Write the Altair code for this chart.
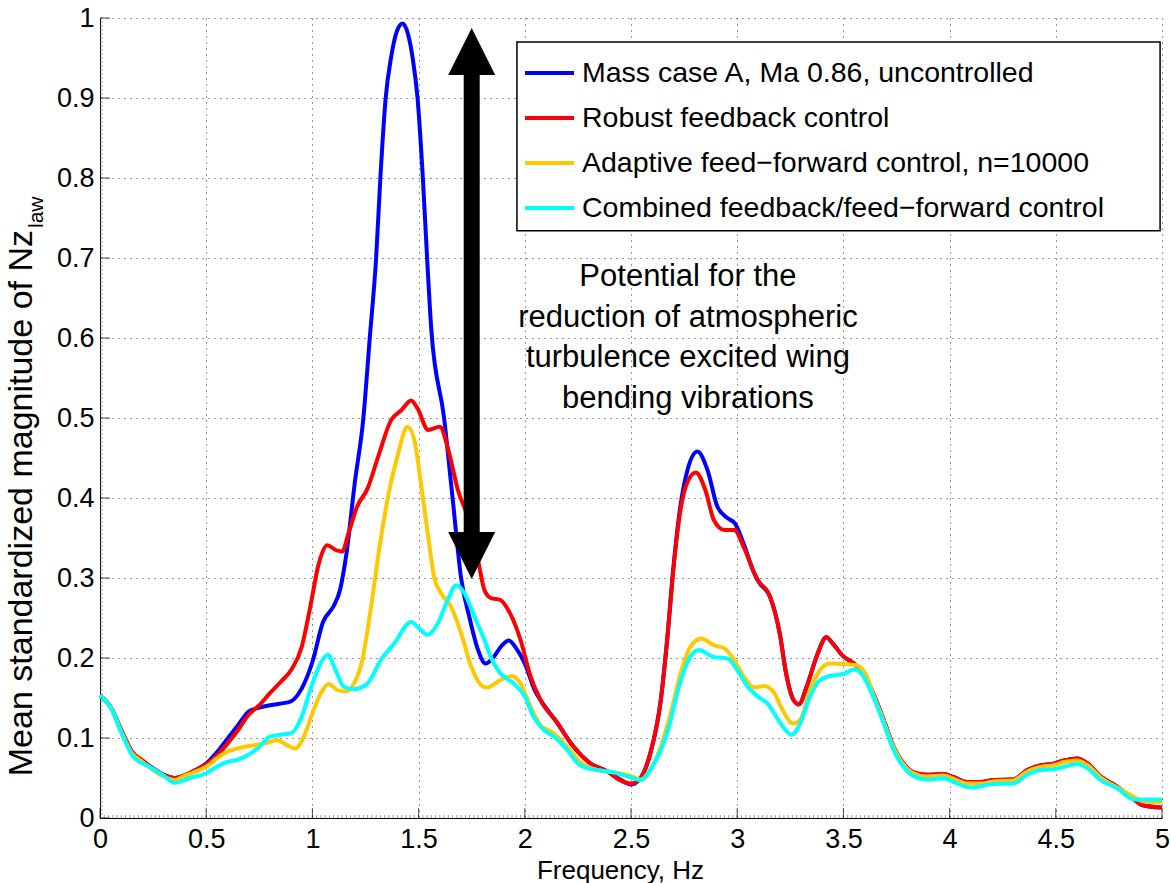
import altair as alt
import pandas as pd

SERIES = [
    "Mass case A, Ma 0.86, uncontrolled",
    "Robust feedback control",
    "Adaptive feed\u2212forward control, n=10000",
    "Combined feedback/feed\u2212forward control",
]
COLORS = ["#0000ff", "#ff0000", "#ffc800", "#00ffff"]

blue_f = [0.00, 0.05, 0.10, 0.15, 0.20, 0.25, 0.30, 0.35, 0.40, 0.45, 0.50, 0.55, 0.60, 0.65, 0.70,
          0.75, 0.80, 0.85, 0.90, 0.95, 1.00, 1.05, 1.10, 1.13, 1.16, 1.20, 1.24, 1.27, 1.30, 1.32,
          1.345, 1.37, 1.40, 1.425, 1.45, 1.472, 1.495, 1.52, 1.54, 1.56, 1.62, 1.66, 1.70,
          1.74, 1.78, 1.815, 1.85, 1.89, 1.925, 1.96, 2.00, 2.05, 2.075, 2.15, 2.23, 2.31, 2.39,
          2.45, 2.50, 2.545, 2.59, 2.64, 2.67, 2.70, 2.73, 2.766, 2.813, 2.86, 2.907, 2.954, 2.99,
          3.03, 3.08, 3.107, 3.154, 3.20, 3.23, 3.264, 3.29, 3.327, 3.374, 3.42, 3.45, 3.50, 3.55,
          3.594, 3.64, 3.69, 3.736, 3.783, 3.83, 3.893, 3.97, 4.02, 4.08, 4.145, 4.21, 4.30, 4.365,
          4.43, 4.49, 4.54, 4.60, 4.65, 4.71, 4.79, 4.85, 4.91, 5.00]
blue_v = [0.153, 0.139, 0.110, 0.083, 0.071, 0.062, 0.054, 0.050, 0.053, 0.060, 0.068, 0.082, 0.099, 0.116, 0.133,
          0.138, 0.141, 0.143, 0.146, 0.162, 0.195, 0.245, 0.265, 0.285, 0.330, 0.420, 0.500, 0.600, 0.700, 0.800,
          0.900, 0.950, 0.985, 0.993, 0.980, 0.950, 0.900, 0.800, 0.700, 0.610, 0.500, 0.400, 0.300,
          0.250, 0.210, 0.193, 0.200, 0.215, 0.222, 0.212, 0.193, 0.158, 0.147, 0.120, 0.089, 0.068, 0.058,
          0.048, 0.042, 0.050, 0.080, 0.147, 0.222, 0.314, 0.385, 0.435, 0.458, 0.435, 0.389, 0.375, 0.368,
          0.343, 0.306, 0.293, 0.277, 0.231, 0.181, 0.148, 0.142, 0.164, 0.202, 0.226, 0.218, 0.202, 0.193,
          0.181, 0.156, 0.1225, 0.089, 0.068, 0.057, 0.054, 0.055, 0.051, 0.045, 0.045, 0.0475, 0.048, 0.060,
          0.066, 0.068, 0.072, 0.0745, 0.068, 0.052, 0.039, 0.027, 0.016, 0.013]

red_f = [0.00, 0.05, 0.10, 0.15, 0.20, 0.25, 0.30, 0.35, 0.40, 0.45, 0.50, 0.55, 0.60, 0.65, 0.70,
         0.75, 0.80, 0.85, 0.90, 0.95, 0.99, 1.03, 1.07, 1.11, 1.14, 1.17, 1.21, 1.26, 1.31, 1.37,
         1.42, 1.465, 1.495, 1.545, 1.60, 1.64, 1.685, 1.73, 1.78, 1.81, 1.84, 1.885, 1.93, 1.98,
         2.027, 2.075, 2.15, 2.23, 2.31, 2.39, 2.45, 2.50, 2.545, 2.59, 2.64, 2.67, 2.70, 2.73,
         2.766, 2.805, 2.85, 2.89, 2.94, 2.986, 3.03, 3.096, 3.154, 3.20, 3.23, 3.264, 3.29, 3.327,
         3.374, 3.42, 3.45, 3.50, 3.55, 3.594, 3.64, 3.69, 3.736, 3.783, 3.83, 3.893, 3.97, 4.02,
         4.08, 4.145, 4.21, 4.30, 4.365, 4.43, 4.49, 4.54, 4.60, 4.65, 4.71, 4.79, 4.85, 4.91, 5.00]
red_v = [0.153, 0.139, 0.110, 0.083, 0.072, 0.062, 0.054, 0.050, 0.054, 0.060, 0.067, 0.078, 0.093, 0.110, 0.129,
         0.141, 0.156, 0.170, 0.185, 0.214, 0.264, 0.318, 0.341, 0.335, 0.333, 0.356, 0.389, 0.412, 0.452, 0.497,
         0.510, 0.522, 0.512, 0.485, 0.489, 0.460, 0.410, 0.377, 0.322, 0.285, 0.275, 0.2725, 0.256, 0.2225,
         0.177, 0.147, 0.120, 0.089, 0.068, 0.058, 0.047, 0.043, 0.050, 0.080, 0.147, 0.222, 0.312, 0.380,
         0.420, 0.432, 0.410, 0.3725, 0.360, 0.360, 0.339, 0.2975, 0.277, 0.231, 0.181, 0.148, 0.142, 0.164,
         0.202, 0.226, 0.218, 0.202, 0.193, 0.181, 0.156, 0.1225, 0.089, 0.068, 0.057, 0.054, 0.055, 0.051,
         0.045, 0.045, 0.0475, 0.048, 0.060, 0.066, 0.068, 0.072, 0.0745, 0.068, 0.052, 0.039, 0.027, 0.016, 0.013]

yellow_f = [0.00, 0.05, 0.10, 0.15, 0.20, 0.25, 0.30, 0.35, 0.40, 0.45, 0.50, 0.55, 0.60, 0.65, 0.70,
            0.75, 0.80, 0.833, 0.88, 0.92, 0.96, 1.00, 1.04, 1.077, 1.117, 1.156, 1.196, 1.235, 1.274,
            1.314, 1.353, 1.40, 1.448, 1.48, 1.511, 1.543, 1.574, 1.606, 1.653, 1.70, 1.748, 1.795,
            1.822, 1.885, 1.94, 1.98, 2.027, 2.074, 2.137, 2.20, 2.26, 2.34, 2.42, 2.50, 2.545, 2.59,
            2.64, 2.687, 2.734, 2.78, 2.83, 2.89, 2.94, 2.986, 3.03, 3.08, 3.127, 3.175, 3.206, 3.264,
            3.296, 3.343, 3.39, 3.437, 3.50, 3.563, 3.61, 3.64, 3.69, 3.736, 3.783, 3.83, 3.893, 3.97,
            4.02, 4.08, 4.145, 4.21, 4.30, 4.365, 4.43, 4.49, 4.54, 4.60, 4.65, 4.71, 4.79, 4.85, 4.91, 5.00]
yellow_v = [0.153, 0.139, 0.108, 0.081, 0.070, 0.060, 0.052, 0.0475, 0.053, 0.058, 0.064, 0.0746, 0.083, 0.087, 0.090,
            0.092, 0.095, 0.0975, 0.091, 0.087, 0.102, 0.131, 0.156, 0.1675, 0.160, 0.158, 0.168, 0.1975, 0.260,
            0.335, 0.3975, 0.452, 0.489, 0.4725, 0.418, 0.356, 0.300, 0.281, 0.264, 0.231, 0.189, 0.166,
            0.163, 0.1725, 0.1775, 0.168, 0.139, 0.116, 0.106, 0.089, 0.070, 0.060, 0.057, 0.0525, 0.048, 0.060,
            0.089, 0.131, 0.181, 0.214, 0.2245, 0.216, 0.212, 0.1975, 0.177, 0.163, 0.165, 0.156, 0.139, 0.118,
            0.1225, 0.160, 0.185, 0.193, 0.1925, 0.191, 0.177, 0.155, 0.121, 0.088, 0.067, 0.056, 0.052, 0.053,
            0.049, 0.043, 0.043, 0.046, 0.047, 0.058, 0.064, 0.066, 0.070, 0.072, 0.066, 0.051, 0.038, 0.029, 0.021, 0.020]

cyan_f = [0.00, 0.05, 0.10, 0.155, 0.233, 0.30, 0.352, 0.423, 0.50, 0.55, 0.60, 0.65, 0.70, 0.75, 0.80,
          0.85, 0.90, 0.95, 0.99, 1.038, 1.073, 1.109, 1.148, 1.196, 1.259, 1.322, 1.385, 1.464, 1.503,
          1.543, 1.59, 1.637, 1.677, 1.716, 1.763, 1.81, 1.838, 1.885, 1.948, 2.00, 2.04, 2.09, 2.137,
          2.20, 2.26, 2.34, 2.42, 2.48, 2.545, 2.60, 2.67, 2.73, 2.78, 2.82, 2.89, 2.954, 3.00, 3.05,
          3.096, 3.143, 3.20, 3.256, 3.296, 3.343, 3.39, 3.437, 3.50, 3.555, 3.594, 3.64, 3.69, 3.736,
          3.783, 3.83, 3.893, 3.97, 4.02, 4.10, 4.21, 4.30, 4.365, 4.43, 4.49, 4.54, 4.60, 4.65, 4.71,
          4.79, 4.868, 5.00]
cyan_v = [0.153, 0.138, 0.107, 0.077, 0.064, 0.053, 0.044, 0.050, 0.056, 0.064, 0.070, 0.073, 0.079, 0.089, 0.1017,
          0.104, 0.106, 0.127, 0.160, 0.193, 0.204, 0.185, 0.164, 0.161, 0.168, 0.1975, 0.218, 0.245, 0.237,
          0.229, 0.243, 0.2725, 0.291, 0.281, 0.2517, 0.2225, 0.202, 0.181, 0.168, 0.152, 0.127, 0.110, 0.102,
          0.085, 0.066, 0.060, 0.057, 0.0525, 0.0475, 0.064, 0.106, 0.168, 0.202, 0.210, 0.201, 0.1995, 0.185, 0.164,
          0.152, 0.143, 0.120, 0.104, 0.118, 0.152, 0.1725, 0.1775, 0.180, 0.186, 0.177, 0.152, 0.118, 0.085,
          0.064, 0.0525, 0.048, 0.0496, 0.045, 0.038, 0.0425, 0.043, 0.054, 0.060, 0.061, 0.064, 0.0675, 0.062, 0.0475,
          0.037, 0.023, 0.023]

X_TICKS = [0, 0.5, 1, 1.5, 2, 2.5, 3, 3.5, 4, 4.5, 5]
Y_TICKS = [0, 0.1, 0.2, 0.3, 0.4, 0.5, 0.6, 0.7, 0.8, 0.9, 1]
X_MINOR = [round(i * 0.02, 3) for i in range(251)]
Y_MINOR = [round(i * 0.005, 4) for i in range(201)]

ANNOTATION = "Potential for the\nreduction of atmospheric\nturbulence excited wing\nbending vibrations"
Y_TITLE = "Mean standardized magnitude of Nz"
Y_TITLE_SUB = "law"
X_TITLE = "Frequency, Hz"

FONT = "Liberation Sans, Arial, Helvetica, sans-serif"

rows = []
for name, fs, vs in zip(SERIES, [blue_f, red_f, yellow_f, cyan_f], [blue_v, red_v, yellow_v, cyan_v]):
    for f, v in zip(fs, vs):
        rows.append({"series": name, "f": f, "v": v})
df = pd.DataFrame(rows)

xs = alt.Scale(domain=[0, 5], nice=False, zero=False)
ys = alt.Scale(domain=[0, 1], nice=False, zero=False)

x_axis = alt.Axis(values=X_TICKS, format="~g", grid=True, ticks=False, labelFlush=False,
                  labelOverlap=False, labelPadding=8, title=X_TITLE, titleFont=FONT,
                  titleFontSize=26, titleFontWeight="normal", titleColor="black",
                  titleX=520, titleY=39, titleBaseline="top", titleAlign="center")
y_axis = alt.Axis(values=Y_TICKS, format="~g", grid=True, ticks=False, labelFlush=False,
                  labelOverlap=False, labelPadding=6, title=None)

lines = alt.Chart(df).mark_line(strokeWidth=4, interpolate="monotone").encode(
    x=alt.X("f:Q", scale=xs, axis=x_axis),
    y=alt.Y("v:Q", scale=ys, axis=y_axis),
    color=alt.Color("series:N", scale=alt.Scale(domain=SERIES, range=COLORS),
                    legend=alt.Legend(title=None, orient="none", legendX=423, legendY=32.75,
                                      symbolType="stroke", symbolStrokeWidth=4, symbolSize=2401,
                                      clipHeight=44.5, rowPadding=0, padding=0, labelOffset=6,
                                      labelFont=FONT, labelFontSize=28.5, labelLimit=2000,
                                      labelColor="black")),
)

# legend frame
legend_box = pd.DataFrame({"x1": [1.963], "x2": [4.991], "y1": [0.734], "y2": [0.97]})
box = alt.Chart(legend_box).mark_rect(fill="white", stroke="black", strokeWidth=1.5).encode(
    x="x1:Q", x2="x2:Q", y="y1:Q", y2="y2:Q")

# minor ticks (inward, small, grey)
xmt = alt.Chart(pd.DataFrame({"t": X_MINOR})).mark_tick(orient="vertical", size=3, thickness=1,
                                                         yOffset=-1.5, color="#777777").encode(
    x=alt.X("t:Q", scale=xs), y=alt.datum(0))
ymt = alt.Chart(pd.DataFrame({"t": Y_MINOR})).mark_tick(orient="horizontal", size=3, thickness=1,
                                                         xOffset=1.5, color="#777777").encode(
    y=alt.Y("t:Q", scale=ys), x=alt.datum(0))

# inward major ticks
xt = alt.Chart(pd.DataFrame({"t": X_TICKS})).mark_tick(orient="vertical", size=10, thickness=1,
                                                        yOffset=-5, color="black").encode(
    x=alt.X("t:Q", scale=xs), y=alt.datum(0))
yt = alt.Chart(pd.DataFrame({"t": Y_TICKS})).mark_tick(orient="horizontal", size=10, thickness=1,
                                                        xOffset=5, color="black").encode(
    y=alt.Y("t:Q", scale=ys), x=alt.datum(0))

# double arrow
arrow_x = [1.75]
shaft = alt.Chart(pd.DataFrame({"x": arrow_x, "y1": [0.935], "y2": [0.352]})).mark_rule(
    strokeWidth=16, color="black").encode(x="x:Q", y="y1:Q", y2="y2:Q")
head_up = alt.Chart(pd.DataFrame({"x": arrow_x, "y": [0.958]})).mark_point(
    shape="M0,-1L1,1L-1,1Z", size=2209, filled=True, color="black", opacity=1).encode(x="x:Q", y="y:Q")
head_dn = alt.Chart(pd.DataFrame({"x": arrow_x, "y": [0.328]})).mark_point(
    shape="M-1,-1L1,-1L0,1Z", size=2209, filled=True, color="black", opacity=1).encode(x="x:Q", y="y:Q")

note = alt.Chart(pd.DataFrame({"x": [2.768], "y": [0.676], "t": [ANNOTATION]})).mark_text(
    font=FONT, fontSize=31, lineBreak="\n", lineHeight=40.5, align="center", baseline="middle",
    color="black").encode(x="x:Q", y="y:Q", text="t:N")

ytitle = alt.Chart(pd.DataFrame({"t": [Y_TITLE]})).mark_text(
    font=FONT, fontSize=34, angle=270, align="right", baseline="alphabetic", color="black").encode(
    x=alt.value(-68), y=alt.value(212), text="t:N")
ysub = alt.Chart(pd.DataFrame({"t": [Y_TITLE_SUB]})).mark_text(
    font=FONT, fontSize=21, angle=270, align="left", baseline="alphabetic", color="black").encode(
    x=alt.value(-57), y=alt.value(210), text="t:N")

chart = alt.layer(box, lines, xmt, ymt, xt, yt, shaft, head_up, head_dn, note, ytitle, ysub).properties(
    width=1062, height=800,
    padding={"left": 100, "top": 18, "right": 9, "bottom": 65},
    autosize=alt.AutoSizeParams(type="none"),
    background="white",
).configure_view(stroke=None).configure_axis(
    domainColor="black", domainWidth=1, labelFont=FONT, labelFontSize=27, labelColor="black",
    gridColor="#333333", gridDash=[1, 5], gridWidth=1, gridOpacity=1,
)

chart.save("out.html", embed_options={"renderer": "svg", "actions": False})
